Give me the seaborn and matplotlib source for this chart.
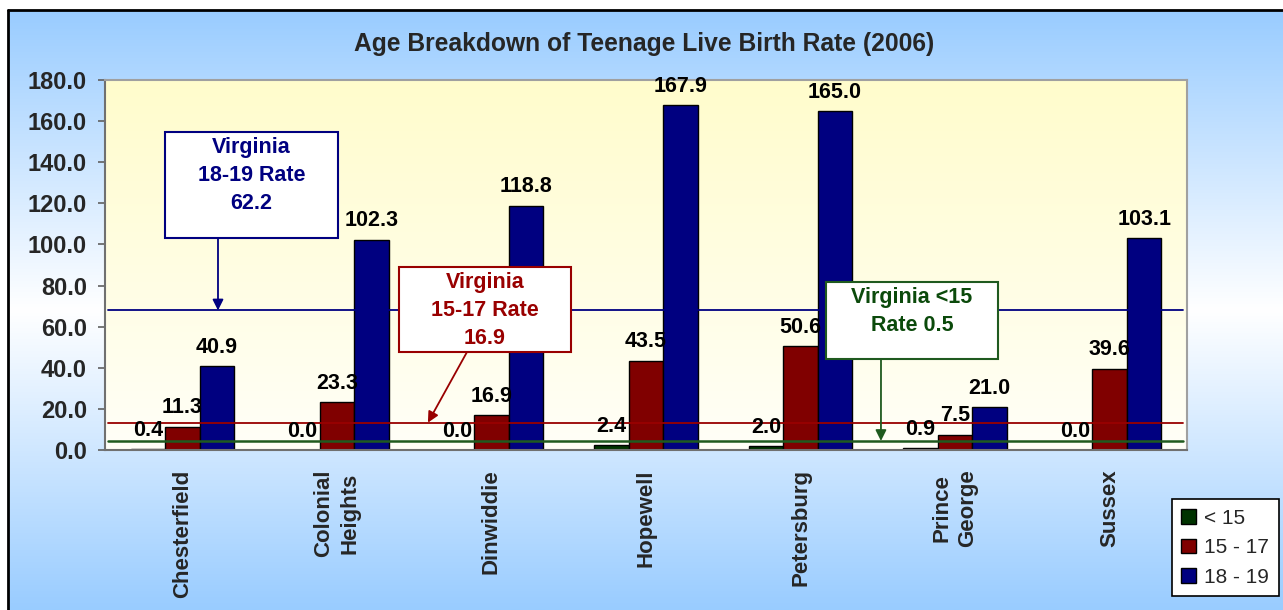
import numpy as np
import pandas as pd
import matplotlib
matplotlib.use("Agg")
import matplotlib.pyplot as plt
from matplotlib.colors import LinearSegmentedColormap
from matplotlib.patches import Rectangle
from matplotlib.lines import Line2D
import seaborn as sns

# data
counties = ['Chesterfield', 'Colonial\nHeights', 'Dinwiddie', 'Hopewell',
            'Petersburg', 'Prince\nGeorge', 'Sussex']
age_groups = ['< 15', '15 - 17', '18 - 19']
under_15 = [0.4, 0.0, 0.0, 2.4, 2.0, 0.9, 0.0]
age_15_17 = [11.3, 23.3, 16.9, 43.5, 50.6, 7.5, 39.6]
age_18_19 = [40.9, 102.3, 118.8, 167.9, 165.0, 21.0, 103.1]
# Virginia reference lines (as drawn on the chart)
ref_levels = [67.9, 13.3, 4.4]
ref_labels = ['Virginia\n18-19 Rate\n62.2', 'Virginia\n15-17 Rate\n16.9',
              'Virginia <15\nRate 0.5']

colors = ['#003300', '#800000', '#000080']
ref_colors = ['#000080', '#990000', '#1f5a1f']
text_colors = ['#000080', '#990000', '#0b4a0b']

W, H = 1283, 610


def fx(x):
    return x / W


def fy(y):
    return 1 - y / H


sns.set_style("white")
plt.rcParams['font.family'] = ['Liberation Sans', 'DejaVu Sans']

fig = plt.figure(figsize=(W / 100, H / 100), dpi=100, facecolor='white')

# chart area gradient (blue - white - blue)
bg = fig.add_axes([fx(8), 0, 1 - fx(8), 600 / H], zorder=-10)
bg_cmap = LinearSegmentedColormap.from_list('bg', ['#99ccff', '#ffffff', '#99ccff'])
bg.imshow(np.linspace(0, 1, 256).reshape(-1, 1), cmap=bg_cmap, aspect='auto',
          extent=(0, 1, 0, 1))
bg.set_axis_off()
fig.add_artist(Line2D([fx(8), 1], [fy(10), fy(10)], color='black', lw=2))
fig.add_artist(Line2D([fx(8), fx(8)], [0, fy(10)], color='black', lw=2))

ax = fig.add_axes([fx(105), fy(450), fx(1187) - fx(105), fy(80) - fy(450)], zorder=0)
ax.patch.set_visible(False)

df = pd.DataFrame({
    'county': counties * 3,
    'age': [age_groups[0]] * 7 + [age_groups[1]] * 7 + [age_groups[2]] * 7,
    'rate': under_15 + age_15_17 + age_18_19,
})

sns.barplot(data=df, x='county', y='rate', hue='age', hue_order=age_groups,
            palette=colors, saturation=1, width=0.67, edgecolor='black',
            linewidth=1, errorbar=None, ax=ax, zorder=1)

# plot area gradient (pale yellow to white)
plot_cmap = LinearSegmentedColormap.from_list('pa', ['#fffff8', '#fffccc'])
ax.imshow(np.linspace(0, 1, 256).reshape(-1, 1), cmap=plot_cmap, origin='lower',
          aspect='auto', extent=(-0.5, 6.5, 0, 180), zorder=0)

for cont in ax.containers:
    for t in ax.bar_label(cont, fmt='%.1f', padding=6, fontsize=15.5,
                          fontweight='bold', color='black'):
        t.set_zorder(4)

for lvl, c in zip(ref_levels, ref_colors):
    ax.axhline(lvl, xmin=0.003, xmax=0.996, color=c,
               lw=1.8 if c == ref_colors[2] else 1.3, zorder=2)

ax.set_xlim(-0.5, 6.5)
ax.set_ylim(0, 180)
ax.set_yticks(np.arange(0, 181, 20))
ax.set_yticklabels([f'{v:.1f}' for v in np.arange(0, 181, 20)],
                   fontsize=17, fontweight='bold')
ax.set_xticks(range(len(counties)))
ax.set_xticklabels(counties, rotation=90, va='top', ha='center',
                   multialignment='center', fontsize=16, fontweight='bold',
                   linespacing=1.3)
ax.set_xticks(np.arange(-0.5, 7, 1), minor=True)
ax.tick_params(axis='x', which='major', length=0, pad=14)
ax.tick_params(axis='x', which='minor', length=5, direction='out', color='#606060',
               width=1.2)
ax.tick_params(axis='y', length=5, direction='out', color='#606060', width=1.2, pad=8)
ax.tick_params(left=True, bottom=True)
ax.set_xlabel('')
ax.set_ylabel('')
for side in ['left', 'bottom']:
    ax.spines[side].set_color('#707070')
    ax.spines[side].set_linewidth(1.5)
for side in ['top', 'right']:
    ax.spines[side].set_color('#a0a0a0')
    ax.spines[side].set_linewidth(1.5)

ax.legend(loc='lower left', bbox_to_anchor=(fx(1172), fy(596)),
          bbox_transform=fig.transFigure, frameon=True, fancybox=False,
          edgecolor='black', framealpha=1, fontsize=15, handlelength=0.7,
          handleheight=0.7, handletextpad=0.4, labelspacing=0.5,
          borderpad=0.45, borderaxespad=0)
ax.get_legend().get_frame().set_linewidth(1.2)

fig.text(fx(644), fy(44), 'Age Breakdown of Teenage Live Birth Rate (2006)',
         ha='center', va='center', fontsize=17.7, fontweight='bold')

# callout boxes: (left, top, right, bottom) in pixels, arrow start/end
boxes = [(165, 132, 338, 238), (399, 267, 571, 352), (826, 282, 998, 359)]
arrow_from = [(218, 238), (467, 352), (881, 359)]
arrow_to_x = [0.231, 1.589, 4.52]
for i in range(3):
    l, t, r, b = boxes[i]
    fig.add_artist(Rectangle((fx(l), fy(b)), fx(r) - fx(l), fy(t) - fy(b),
                             transform=fig.transFigure, facecolor='white',
                             edgecolor=ref_colors[i], lw=1.5, zorder=5))
    fig.text(fx((l + r) / 2), fy(t + 5), ref_labels[i], ha='center', va='top',
             color=text_colors[i], fontsize=15.5, fontweight='bold',
             linespacing=1.45, zorder=6)
    ax.annotate('', xy=(arrow_to_x[i], ref_levels[i]), xycoords='data',
                xytext=(fx(arrow_from[i][0]), fy(arrow_from[i][1])),
                textcoords='figure fraction',
                arrowprops=dict(arrowstyle='-|>', color=ref_colors[i], lw=1.3,
                                mutation_scale=16, shrinkA=0, shrinkB=0),
                zorder=6)

fig.savefig('out.png', dpi=100)
